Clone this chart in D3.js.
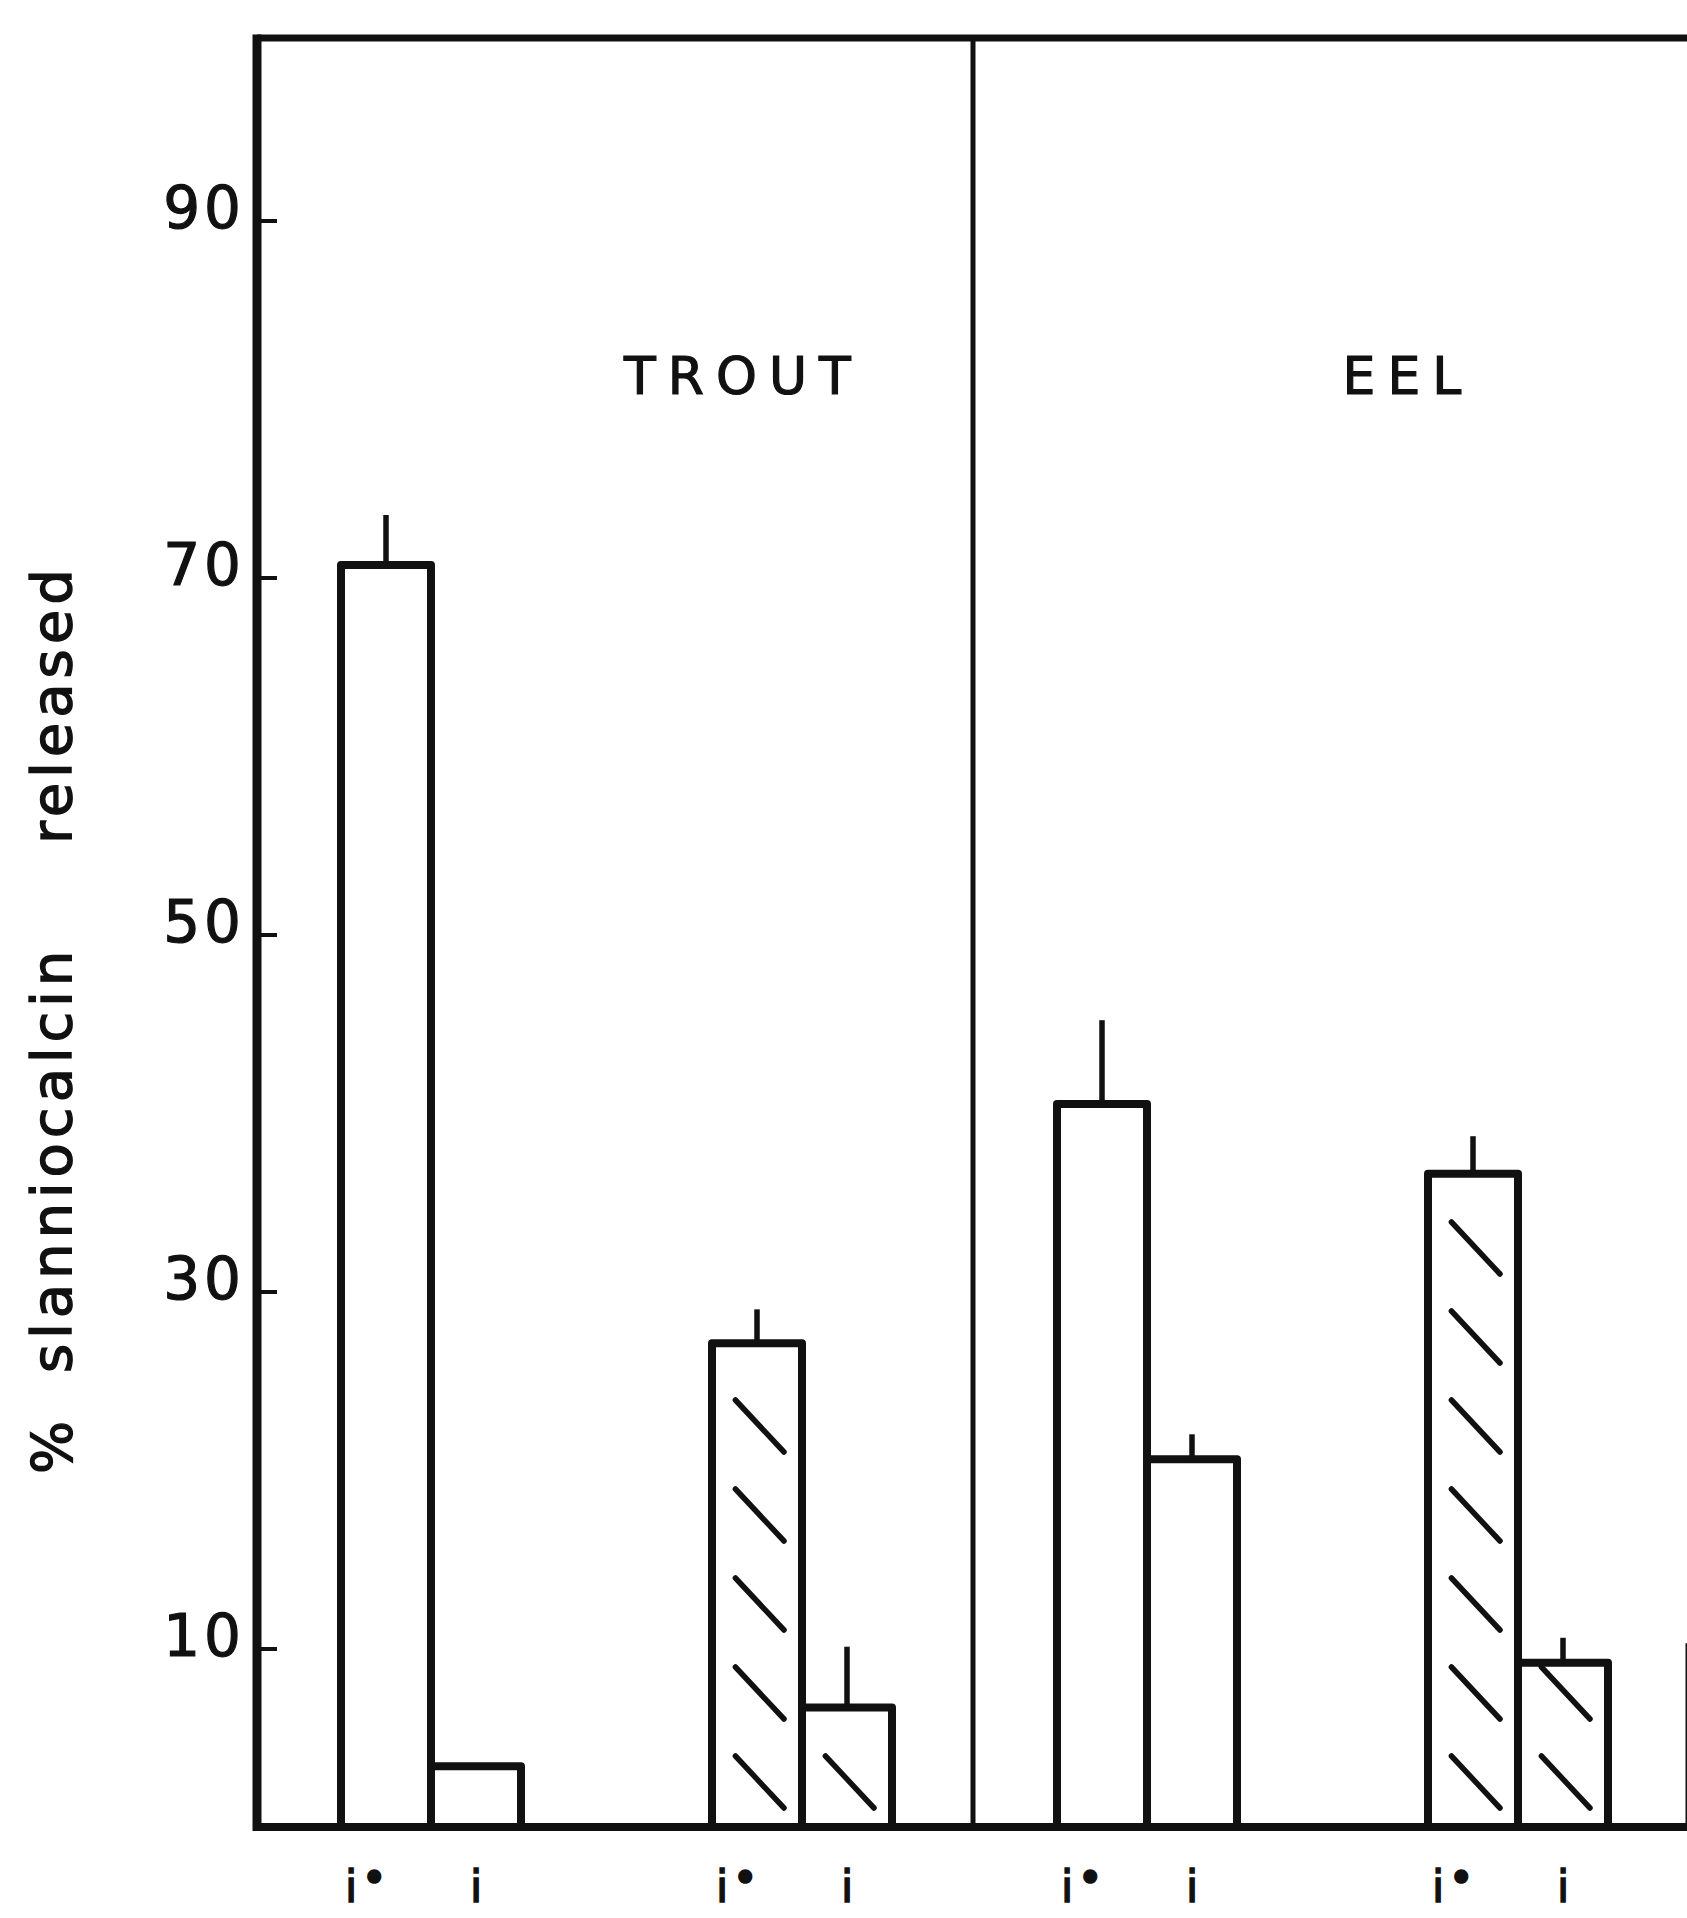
<!DOCTYPE html>
<html>
<head>
<meta charset="utf-8">
<script src="https://cdn.jsdelivr.net/npm/d3@7"></script>
<style>
  html, body { margin: 0; padding: 0; background: #fff; }
  svg { display: block; }
  text { font-family: "DejaVu Sans", sans-serif; fill: #111; }
</style>
</head>
<body>
<div id="chart"></div>
<script>
// ---------------- data ----------------
const panels = ["TROUT", "EEL"];
const groups = ["control", "treated"];          // open bars, hatched bars
const doses = ["i•", "i"];                       // bar labels under each pair
const troutControl = [70.7, 3.4];
const troutControlSem = [2.8, 0];
const troutTreated = [27.1, 6.7];
const troutTreatedSem = [1.9, 3.4];
const eelControl = [40.5, 20.6];
const eelControlSem = [4.7, 1.4];
const eelTreated = [36.6, 9.2];
const eelTreatedSem = [2.1, 1.4];
const nextPanelFirstBar = 10.1;                  // bar of the following panel, cut off at the right edge
const yTicks = [10, 30, 50, 70, 90];
const yTitleWords = ["%", "slanniocalcin", "released"];

const series = {
  TROUT: { control: [troutControl, troutControlSem], treated: [troutTreated, troutTreatedSem] },
  EEL:   { control: [eelControl, eelControlSem],     treated: [eelTreated, eelTreatedSem] }
};
const bars = [];
panels.forEach(p => groups.forEach(g => doses.forEach((d, i) => {
  bars.push({ panel: p, group: g, dose: d, value: series[p][g][0][i], sem: series[p][g][1][i] });
})));

// ---------------- layout ----------------
const W = 1687, H = 1918;
const axisX = 257, topY = 38, baseY = 1827;
const panelW = 716;
const ink = "#111";

const svg = d3.select("#chart").append("svg").attr("width", W).attr("height", H);

const y = d3.scaleLinear().domain([0, 100]).range([baseY, 42]);
const xPanel = d3.scaleBand().domain(panels).range([axisX, axisX + panels.length * panelW]);
const xGroup = d3.scaleBand().domain(groups).range([84, 84 + 2 * 371]);
const xDose = d3.scaleBand().domain(doses).range([0, 180]);
const bw = xDose.bandwidth();
const barX = d => xPanel(d.panel) + xGroup(d.group) + xDose(d.dose);

// bars
const gBars = svg.append("g");
gBars.selectAll("rect.bar").data(bars).join("rect")
  .attr("class", "bar")
  .attr("x", barX)
  .attr("y", d => y(d.value))
  .attr("width", bw)
  .attr("height", d => y(0) - y(d.value))
  .attr("fill", "#fff")
  .attr("stroke", ink)
  .attr("stroke-width", 8)
  .attr("stroke-linejoin", "round");

// cut-off bar of the next panel
gBars.append("rect")
  .attr("x", xPanel("EEL") + xPanel.bandwidth())
  .attr("y", y(nextPanelFirstBar))
  .attr("width", bw)
  .attr("height", y(0) - y(nextPanelFirstBar))
  .attr("fill", "#fff").attr("stroke", ink).attr("stroke-width", 7);

// hatching for treated bars
const hatch = [];
bars.filter(d => d.group === "treated").forEach(d => {
  const x0 = barX(d), top = y(d.value);
  for (let yEnd = y(0) - 19; yEnd - 52 >= top + 3; yEnd -= 89) {
    hatch.push({ x1: x0 + bw * 0.26, y1: yEnd - 52, x2: x0 + bw * 0.8, y2: yEnd });
  }
});
gBars.selectAll("line.hatch").data(hatch).join("line")
  .attr("class", "hatch")
  .attr("x1", d => d.x1).attr("y1", d => d.y1)
  .attr("x2", d => d.x2).attr("y2", d => d.y2)
  .attr("stroke", ink).attr("stroke-width", 5.5).attr("stroke-linecap", "round");

// error bars
gBars.selectAll("line.err").data(bars.filter(d => d.sem > 0)).join("line")
  .attr("class", "err")
  .attr("x1", d => barX(d) + bw / 2).attr("x2", d => barX(d) + bw / 2)
  .attr("y1", d => y(d.value)).attr("y2", d => y(d.value + d.sem))
  .attr("stroke", ink).attr("stroke-width", 5.5);

// frame: top line, panel divider, baseline
svg.append("line").attr("x1", axisX).attr("x2", W + 10).attr("y1", topY).attr("y2", topY)
  .attr("stroke", ink).attr("stroke-width", 7);
svg.append("line")
  .attr("x1", xPanel("EEL")).attr("x2", xPanel("EEL"))
  .attr("y1", topY).attr("y2", baseY)
  .attr("stroke", ink).attr("stroke-width", 5);
svg.append("line").attr("x1", axisX).attr("x2", W + 10).attr("y1", baseY).attr("y2", baseY)
  .attr("stroke", ink).attr("stroke-width", 8);

// y axis
const yAxis = d3.axisLeft(y).tickValues(yTicks).tickSize(-20).tickPadding(12).tickFormat(d3.format("d"));
const gy = svg.append("g").attr("transform", `translate(${axisX},0)`).call(yAxis);
gy.select(".domain").remove();
gy.selectAll(".tick line").attr("stroke", ink).attr("stroke-width", 4);
gy.selectAll(".tick text")
  .attr("dy", "0.12em")
  .style("font-size", "58px")
  .style("letter-spacing", "4px")
  .attr("fill", ink)
  .attr("stroke", ink).attr("stroke-width", 1.2);
svg.append("line").attr("x1", axisX).attr("x2", axisX).attr("y1", topY - 3.5).attr("y2", baseY + 4)
  .attr("stroke", ink).attr("stroke-width", 9);

// y title
const yt = svg.append("text")
  .attr("transform", `translate(71,${1474}) rotate(-90)`)
  .style("font-size", "56px").style("letter-spacing", "5px")
  .attr("stroke", ink).attr("stroke-width", 1.4);
const titleOffsets = [0, 101, 630];
yt.selectAll("tspan").data(yTitleWords).join("tspan")
  .attr("x", (d, i) => titleOffsets[i]).attr("y", 0).text(d => d);

// panel labels
const panelLabelFrac = { TROUT: 0.671, EEL: 0.599 };
svg.selectAll("text.panel").data(panels).join("text")
  .attr("class", "panel")
  .attr("x", d => xPanel(d) + xPanel.bandwidth() * panelLabelFrac[d] + 6)
  .attr("y", 394)
  .attr("text-anchor", "middle")
  .style("font-size", "52px").style("letter-spacing", "12px")
  .attr("stroke", ink).attr("stroke-width", 1.2)
  .text(d => d);

// bar labels below baseline
const lab = svg.selectAll("text.dose").data(bars).join("text")
  .attr("class", "dose")
  .attr("y", 1902)
  .style("font-size", "44px")
  .attr("stroke", ink).attr("stroke-width", 1.5);
lab.filter(d => d.dose === "i")
  .attr("x", d => barX(d) + bw / 2).attr("text-anchor", "middle").text("i");
lab.filter(d => d.dose === "i•").each(function(d) {
  const t = d3.select(this).attr("x", barX(d) + 4).attr("text-anchor", "start");
  t.append("tspan").text("i");
  t.append("tspan").attr("dx", 4).attr("dy", -9).text("•");
});
</script>
</body>
</html>
